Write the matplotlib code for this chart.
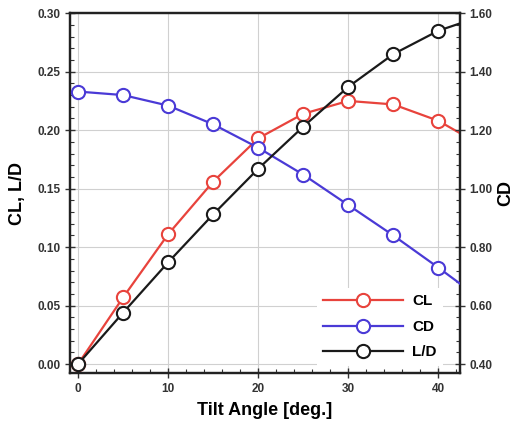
import numpy as np
import matplotlib.pyplot as plt
from matplotlib.ticker import MultipleLocator, FormatStrFormatter

plt.rcParams['font.family'] = ['Liberation Sans', 'DejaVu Sans']
plt.rcParams['font.weight'] = 'bold'

# tilt angle [deg.]
tilt = [0, 5, 10, 15, 20, 25, 30, 35, 40, 45]

# left axis values
cl = [0.000, 0.057, 0.111, 0.156, 0.193, 0.214, 0.225, 0.222, 0.208, 0.186]
lod = [0.000, 0.044, 0.087, 0.128, 0.167, 0.203, 0.237, 0.265, 0.285, 0.298]

# right axis values
cd = [1.332, 1.320, 1.284, 1.220, 1.140, 1.048, 0.944, 0.840, 0.730, 0.616]

red = '#e8433c'
blue = '#4a3ad6'
black = '#1a1a1a'

rect = [0.135, 0.122, 0.753, 0.847]
fig = plt.figure(figsize=(5.18, 4.25), dpi=100)
ax = fig.add_axes(rect)
ax2 = ax.twinx()
# extra layer on the left scale so L/D sits above CD
ax3 = fig.add_axes(rect, sharex=ax, sharey=ax)
ax3.set_axis_off()

mk = dict(marker='o', markersize=9.5, markerfacecolor='white', markeredgewidth=1.5, linewidth=1.6)

ln_cl, = ax.plot(tilt, cl, color=red, markeredgecolor=red, label='CL', zorder=3, **mk)
ln_cd, = ax2.plot(tilt, cd, color=blue, markeredgecolor=blue, label='CD', zorder=3, **mk)
ln_ld, = ax3.plot(tilt, lod, color=black, markeredgecolor=black, label='L/D', zorder=3, **mk)

ax.set_xlim(-0.9, 42.4)
ax.set_ylim(-0.0077, 0.30)
ax2.set_ylim(0.4 - 0.0077 * 4, 1.60)

ax.xaxis.set_major_locator(MultipleLocator(10))
ax.xaxis.set_minor_locator(MultipleLocator(2))
ax.yaxis.set_major_locator(MultipleLocator(0.05))
ax.yaxis.set_minor_locator(MultipleLocator(0.01))
ax.yaxis.set_major_formatter(FormatStrFormatter('%.2f'))
ax2.yaxis.set_major_locator(MultipleLocator(0.2))
ax2.yaxis.set_minor_locator(MultipleLocator(0.04))
ax2.yaxis.set_major_formatter(FormatStrFormatter('%.2f'))

ax.grid(True, which='major', color='#d0d0d0', linewidth=0.8)
ax.set_axisbelow(True)

for a in (ax, ax2):
    a.tick_params(which='both', labelsize=8.5, colors='#333333', labelcolor='#333333')
    a.tick_params(which='major', direction='inout', length=7, width=1)
    a.tick_params(which='minor', direction='in', length=3, width=0.8)
    for s in a.spines.values():
        s.set_linewidth(1.6)
        s.set_color('#222222')

ax.set_xlabel('Tilt Angle [deg.]', fontsize=13, fontweight='bold', labelpad=5)
ax.set_ylabel('CL, L/D', fontsize=13, fontweight='bold', labelpad=8)
ax2.set_ylabel('CD', fontsize=13, fontweight='bold', labelpad=3)

leg = ax3.legend([ln_cl, ln_cd, ln_ld], ['CL', 'CD', 'L/D'], loc='lower right',
                 bbox_to_anchor=(0.975, 0.0),
                 frameon=True, fancybox=False, edgecolor='none', framealpha=1,
                 handlelength=5.2, handletextpad=0.6, labelspacing=0.75, fontsize=11)
leg.set_zorder(10)

fig.savefig('out.png', dpi=100)
